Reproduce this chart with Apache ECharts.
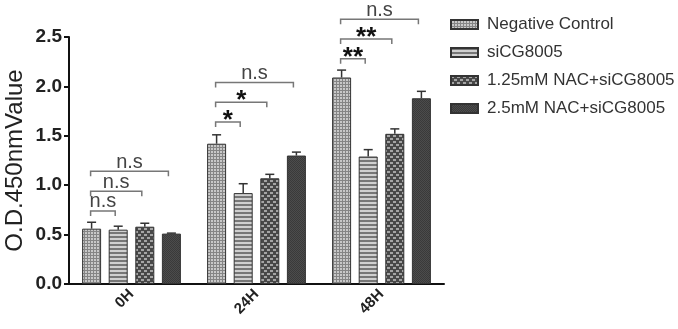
<!DOCTYPE html>
<html>
<head>
<meta charset="utf-8">
<script src="https://cdn.jsdelivr.net/npm/echarts@6/dist/echarts.min.js"></script>
<style>
  html, body { margin: 0; padding: 0; background: #fff; }
  #chart { width: 678px; height: 329px; }
</style>
</head>
<body>
<div id="chart"></div>
<script>
// 数据
var categories = ['0H', '24H', '48H']
var seriesNames = ['Negative Control', 'siCG8005', '1.25mM NAC+siCG8005', '2.5mM NAC+siCG8005']

var negControl = [0.56, 1.42, 2.09]
var negControlErr = [0.065, 0.09, 0.075]
var siCG = [0.55, 0.92, 1.29]
var siCGErr = [0.035, 0.095, 0.07]
var nac125 = [0.58, 1.07, 1.52]
var nac125Err = [0.035, 0.04, 0.05]
var nac25 = [0.51, 1.30, 1.88]
var nac25Err = [0.005, 0.035, 0.07]

var yTicks = [0, 0.5, 1.0, 1.5, 2.0, 2.5]

// 显著性标注
var bracketGroup = [0, 0, 0, 1, 1, 1, 2, 2, 2]
var bracketTo = [1, 2, 3, 1, 2, 3, 1, 2, 3]
var bracketY = [0.74, 0.94, 1.14, 1.64, 1.84, 2.04, 2.28, 2.48, 2.68]
var bracketText = ['n.s', 'n.s', 'n.s', '*', '*', 'n.s', '**', '**', 'n.s']

var values = [negControl, siCG, nac125, nac25]
var errors = [negControlErr, siCGErr, nac125Err, nac25Err]

// 填充图案
function makePattern(w, h, draw) {
  var c = document.createElement('canvas')
  c.width = w
  c.height = h
  var ctx = c.getContext('2d')
  draw(ctx)
  return { image: c, repeat: 'repeat' }
}

var patterns = [
  makePattern(3, 3, function (ctx) {
    ctx.fillStyle = '#c8c8c8'; ctx.fillRect(0, 0, 3, 3)
    ctx.fillStyle = '#858585'; ctx.fillRect(0, 0, 3, 1); ctx.fillRect(0, 0, 1, 3)
  }),
  makePattern(4, 4, function (ctx) {
    ctx.fillStyle = '#d0d0d0'; ctx.fillRect(0, 0, 4, 4)
    ctx.fillStyle = '#777'; ctx.fillRect(0, 0, 4, 2)
  }),
  makePattern(6, 6, function (ctx) {
    ctx.fillStyle = '#484848'; ctx.fillRect(0, 0, 6, 6)
    ctx.fillStyle = '#a5a5a5'; ctx.fillRect(0, 0, 3, 2); ctx.fillRect(3, 3, 3, 2)
  }),
  makePattern(2, 2, function (ctx) {
    ctx.fillStyle = '#4c4c4c'; ctx.fillRect(0, 0, 2, 2)
    ctx.fillStyle = '#3a3a3a'; ctx.fillRect(0, 0, 1, 1); ctx.fillRect(1, 1, 1, 1)
  })
]

var barWidth = 19
var barGapRatio = 0.4
var pitch = barWidth * (1 + barGapRatio)
var fontFamily = '"Liberation Sans", Arial, sans-serif'

function offsetOf(s) {
  return (s - 1.5) * pitch
}

var myChart = echarts.init(document.getElementById('chart'))

var barSeries = seriesNames.map(function (name, i) {
  return {
    name: name,
    type: 'bar',
    barWidth: barWidth,
    barGap: (barGapRatio * 100) + '%',
    data: values[i],
    itemStyle: {
      color: patterns[i],
      borderColor: '#333',
      borderWidth: 1
    },
    z: 2
  }
})

// 误差线
var errData = []
values.forEach(function (arr, s) {
  arr.forEach(function (v, c) {
    errData.push([c, v, v + errors[s][c], s])
  })
})

var errSeries = {
  type: 'custom',
  name: 'err',
  data: errData,
  z: 3,
  silent: true,
  renderItem: function (params, api) {
    var c = api.value(0)
    var s = api.value(3)
    var p0 = api.coord([c, api.value(1)])
    var p1 = api.coord([c, api.value(2)])
    var x = p0[0] + offsetOf(s)
    var half = 4.5
    return {
      type: 'group',
      children: [
        { type: 'line', shape: { x1: x, y1: p0[1], x2: x, y2: p1[1] }, style: { stroke: '#333', lineWidth: 1.5 } },
        { type: 'line', shape: { x1: x - half, y1: p1[1], x2: x + half, y2: p1[1] }, style: { stroke: '#333', lineWidth: 1.5 } }
      ]
    }
  }
}

// 括号
var bracketData = bracketGroup.map(function (g, i) {
  return [g, bracketTo[i], bracketY[i], i]
})

var bracketSeries = {
  type: 'custom',
  name: 'bracket',
  data: bracketData,
  clip: false,
  z: 4,
  silent: true,
  renderItem: function (params, api) {
    var c = api.value(0)
    var to = api.value(1)
    var idx = api.value(3)
    var p = api.coord([c, api.value(2)])
    var x1 = p[0] + offsetOf(0) - 1
    var x2 = p[0] + offsetOf(to) - 3
    var y = p[1]
    var drop = 5
    var label = bracketText[idx]
    var isStar = label.indexOf('*') === 0
    return {
      type: 'group',
      children: [
        {
          type: 'polyline',
          shape: { points: [[x1, y + drop], [x1, y], [x2, y], [x2, y + drop]] },
          style: { stroke: '#777', lineWidth: 1.5, fill: null }
        },
        {
          type: 'text',
          x: (x1 + x2) / 2,
          y: isStar ? y + 12 : y + 1,
          style: {
            text: label,
            fill: isStar ? '#111' : '#444',
            font: isStar ? 'bold 26px ' + fontFamily : '20px ' + fontFamily,
            align: 'center',
            verticalAlign: 'bottom'
          }
        }
      ]
    }
  }
}

var option = {
  animation: false,
  backgroundColor: '#fff',
  grid: {
    left: 69,
    right: 234,
    top: 37,
    bottom: 45,
    containLabel: false,
    outerBoundsMode: 'none'
  },
  legend: {
    orient: 'vertical',
    left: 445,
    top: 11,
    data: seriesNames,
    itemWidth: 27,
    itemHeight: 9,
    itemGap: 11,
    icon: 'rect',
    textStyle: {
      fontFamily: fontFamily,
      fontSize: 17,
      color: '#333',
      padding: [0, 0, 0, 4]
    }
  },
  xAxis: {
    type: 'category',
    data: categories,
    axisLine: { lineStyle: { color: '#111', width: 2 } },
    axisTick: { alignWithLabel: true, length: 5, lineStyle: { color: '#111', width: 2 } },
    axisLabel: {
      rotate: 45,
      margin: 8,
      fontFamily: fontFamily,
      fontWeight: 'bold',
      fontSize: 15,
      color: '#222'
    }
  },
  yAxis: {
    type: 'value',
    min: 0,
    max: yTicks[yTicks.length - 1],
    interval: yTicks[1] - yTicks[0],
    name: 'O.D.450nmValue',
    nameLocation: 'middle',
    nameGap: 42,
    nameMoveOverlap: false,
    nameTextStyle: {
      fontFamily: fontFamily,
      fontSize: 24,
      color: '#222'
    },
    axisLine: { show: true, lineStyle: { color: '#111', width: 2 } },
    axisTick: { show: true, length: 5, lineStyle: { color: '#111', width: 2 } },
    splitLine: { show: false },
    axisLabel: {
      margin: 7,
      fontFamily: fontFamily,
      fontWeight: 'bold',
      fontSize: 19,
      color: '#222',
      formatter: function (v) { return v.toFixed(1) }
    }
  },
  series: barSeries.concat([errSeries, bracketSeries])
}

myChart.setOption(option, true)
</script>
</body>
</html>
